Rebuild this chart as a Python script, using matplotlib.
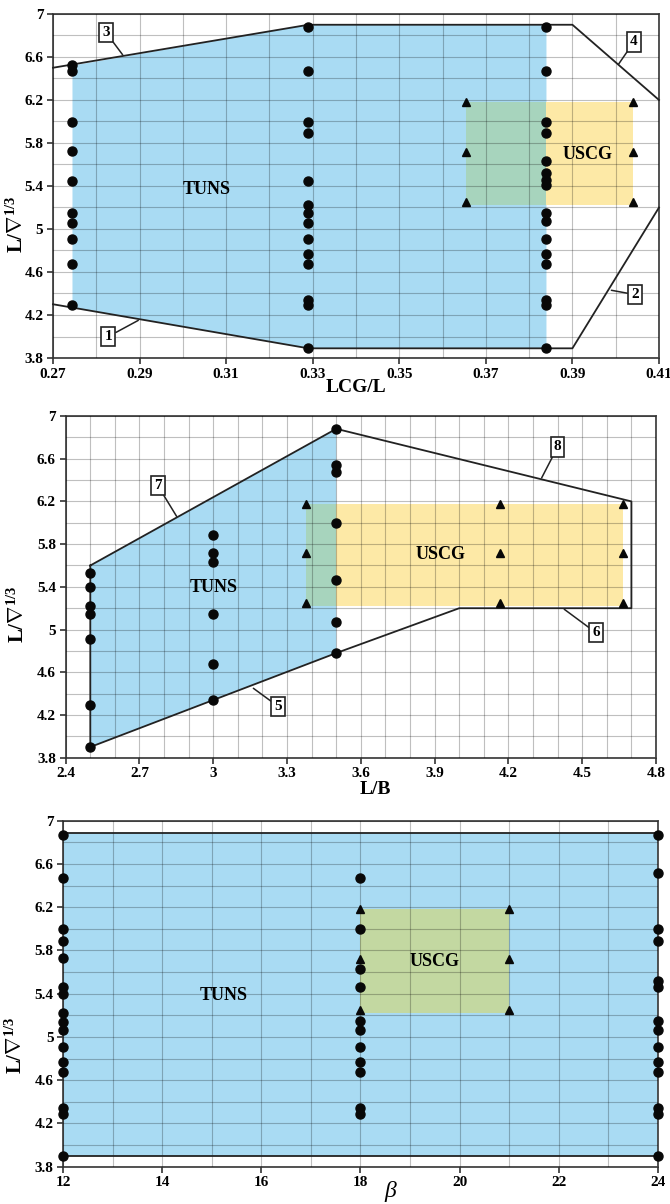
import numpy as np
import matplotlib
matplotlib.use('Agg')
import matplotlib.pyplot as plt
from matplotlib.patches import Polygon, Rectangle
from matplotlib.ticker import FixedLocator, FuncFormatter

plt.rcParams['font.family'] = ['Liberation Serif', 'DejaVu Serif']
plt.rcParams['font.weight'] = 'bold'
plt.rcParams['mathtext.fontset'] = 'custom'
plt.rcParams['mathtext.rm'] = 'Liberation Serif'
plt.rcParams['mathtext.bf'] = 'Liberation Serif:bold'
plt.rcParams['mathtext.it'] = 'Liberation Serif:italic'

# ---- panel 1 : LCG/L ----
lcg_cols = [0.2745, 0.329, 0.384]
lcg_tuns = [
    [6.53, 6.47, 6.0, 5.73, 5.45, 5.15, 5.06, 4.91, 4.67, 4.29],
    [6.88, 6.47, 6.0, 5.89, 5.45, 5.22, 5.15, 5.06, 4.91, 4.77, 4.67, 4.34, 4.29, 3.89],
    [6.88, 6.47, 6.0, 5.89, 5.63, 5.52, 5.46, 5.41, 5.15, 5.07, 4.91, 4.77, 4.67, 4.34, 4.29, 3.89],
]
lcg_uscg_x = [0.3655, 0.404]
lcg_tuns_poly = [(0.2745, 6.52), (0.329, 6.9), (0.384, 6.9), (0.384, 3.89), (0.329, 3.89), (0.2745, 4.27)]
lcg_upper = [(0.27, 6.5), (0.329, 6.9), (0.39, 6.9), (0.41, 6.2)]
lcg_lower = [(0.27, 4.3), (0.329, 3.89), (0.39, 3.89), (0.41, 5.2)]
lcg_xticks = [0.27, 0.29, 0.31, 0.33, 0.35, 0.37, 0.39, 0.41]
# number tags: (label, point on line, box position)
lcg_tags = [('3', (0.2861, 6.62), (0.2822, 6.83)),
            ('1', (0.2897, 4.15), (0.2828, 4.0)),
            ('4', (0.4006, 6.53), (0.4042, 6.74)),
            ('2', (0.399, 4.43), (0.4044, 4.39))]

# ---- panel 2 : L/B ----
lb_cols = [2.5, 3.0, 3.5]
lb_tuns = [
    [5.53, 5.40, 5.22, 5.15, 4.91, 4.29, 3.90],
    [5.89, 5.72, 5.63, 5.15, 4.68, 4.34],
    [6.88, 6.54, 6.48, 6.0, 5.46, 5.07, 4.78],
]
lb_uscg_x = [3.375, 4.167, 4.667]
lb_tuns_poly = [(2.5, 3.9), (3.5, 4.78), (3.5, 6.88), (2.5, 5.6)]
lb_outline = [(2.5, 5.6), (3.5, 6.88), (4.7, 6.2), (4.7, 5.2), (4.0, 5.2), (3.5, 4.78), (2.5, 3.9), (2.5, 5.6)]
lb_xticks = [2.4, 2.7, 3.0, 3.3, 3.6, 3.9, 4.2, 4.5, 4.8]
lb_tags = [('7', (2.851, 6.06), (2.774, 6.35)),
           ('5', (3.163, 4.45), (3.264, 4.28)),
           ('8', (4.335, 6.42), (4.40, 6.71)),
           ('6', (4.427, 5.19), (4.556, 4.97))]

# ---- panel 3 : beta ----
beta_cols = [12, 18, 24]
beta_tuns = [
    [6.87, 6.47, 6.0, 5.89, 5.73, 5.46, 5.40, 5.22, 5.14, 5.06, 4.91, 4.77, 4.68, 4.34, 4.29, 3.90],
    [6.47, 6.0, 5.63, 5.46, 5.15, 5.06, 4.91, 4.77, 4.68, 4.34, 4.29],
    [6.87, 6.52, 6.0, 5.89, 5.52, 5.46, 5.15, 5.06, 4.91, 4.77, 4.68, 4.34, 4.29, 3.90],
]
beta_uscg_x = [18, 21]
beta_tuns_rect = (12, 24, 3.9, 6.89)
beta_xticks = [12, 14, 16, 18, 20, 22, 24]

# USCG range is the same on every panel
uscg_y = [6.18, 5.72, 5.25]
uscg_ylim = (5.22, 6.18)
yticks = [3.8, 4.2, 4.6, 5.0, 5.4, 5.8, 6.2, 6.6, 7.0]

blue = '#a9dbf3'
yellow = '#fde9a6'
green12 = '#a7d4bd'
green3 = '#c3d8a1'
ylab = r'$\mathbf{L/\nabla^{1/3}}$'

fmt = FuncFormatter(lambda v, p: '%g' % round(v, 3))


def setup(ax, xlim, xticks, xminor, xlabel, xl_pos, yl_pos, **lab_kw):
    ax.set_xlim(xlim)
    ax.set_ylim(3.8, 7.0)
    ax.xaxis.set_major_locator(FixedLocator(xticks))
    ax.xaxis.set_minor_locator(FixedLocator(xminor))
    ax.yaxis.set_major_locator(FixedLocator(yticks))
    ax.yaxis.set_minor_locator(FixedLocator(np.arange(3.8, 7.01, 0.2)))
    ax.xaxis.set_major_formatter(fmt)
    ax.yaxis.set_major_formatter(fmt)
    ax.set_axisbelow(False)
    ax.grid(which='both', color='black', alpha=0.25, lw=0.8)
    ax.tick_params(which='major', direction='out', length=4, width=1.2, labelsize=11, color='#333333', pad=3)
    ax.tick_params(which='minor', length=0)
    for s in ax.spines.values():
        s.set_color('#444444')
        s.set_linewidth(1.3)
    kw = dict(fontsize=14, fontweight='bold')
    kw.update(lab_kw)
    ax.set_xlabel(xlabel, va='top', **kw)
    ax.xaxis.set_label_coords(*xl_pos)
    ax.set_ylabel(ylab, fontsize=15)
    ax.yaxis.set_label_coords(*yl_pos)


def dots(ax, cols, vals, tri_x):
    for x, ys in zip(cols, vals):
        ax.plot([x] * len(ys), ys, 'o', color='#080808', ms=6.5, zorder=5, clip_on=False)
    for x in tri_x:
        ax.plot([x] * len(uscg_y), uscg_y, '^', color='#080808', ms=5.5, zorder=5)


def tags(ax, tag_list):
    for t, xy, xyt in tag_list:
        ax.annotate(t, xy=xy, xytext=xyt, fontsize=11, fontweight='bold', ha='center', va='center',
                    bbox=dict(boxstyle='square,pad=0.2', fc='white', ec='#222222', lw=1.2),
                    arrowprops=dict(arrowstyle='-', color='#222222', lw=1.1, shrinkA=0, shrinkB=0),
                    zorder=6)


fig = plt.figure(figsize=(6.7, 12.04), dpi=100)

# panel 1
ax1 = fig.add_axes([53 / 670, 1 - 358 / 1204, 606 / 670, 344 / 1204])
setup(ax1, (0.27, 0.41), lcg_xticks, np.arange(0.27, 0.4101, 0.01), 'LCG/L',
      (0.5, -0.062), (-0.042, 0.39))
ax1.add_patch(Polygon(lcg_tuns_poly, closed=True, fc=blue, ec='none', zorder=1))
ax1.add_patch(Rectangle((lcg_uscg_x[0], uscg_ylim[0]), lcg_uscg_x[1] - lcg_uscg_x[0],
                        uscg_ylim[1] - uscg_ylim[0], fc=yellow, ec='none', zorder=1.1))
ax1.add_patch(Rectangle((lcg_uscg_x[0], uscg_ylim[0]), lcg_cols[2] - lcg_uscg_x[0],
                        uscg_ylim[1] - uscg_ylim[0], fc=green12, ec='none', zorder=1.2))
ax1.plot(*zip(*lcg_upper), color='#222222', lw=1.3, zorder=3, clip_on=False)
ax1.plot(*zip(*lcg_lower), color='#222222', lw=1.3, zorder=3, clip_on=False)
dots(ax1, lcg_cols, lcg_tuns, lcg_uscg_x)
ax1.text(0.3055, 5.37, 'TUNS', fontsize=13, fontweight='bold', ha='center', va='center', zorder=6)
ax1.text(0.3936, 5.69, 'USCG', fontsize=13, fontweight='bold', ha='center', va='center', zorder=6)
tags(ax1, lcg_tags)

# panel 2
ax2 = fig.add_axes([65.7 / 670, 1 - 757.7 / 1204, 590.3 / 670, 341.7 / 1204])
setup(ax2, (2.4, 4.8), lb_xticks, np.arange(2.4, 4.801, 0.1), 'L/B',
      (0.524, -0.068), (-0.063, 0.42))
ax2.add_patch(Polygon(lb_tuns_poly, closed=True, fc=blue, ec='none', zorder=1))
ax2.add_patch(Rectangle((lb_uscg_x[0], uscg_ylim[0]), lb_uscg_x[2] - lb_uscg_x[0],
                        uscg_ylim[1] - uscg_ylim[0], fc=yellow, ec='none', zorder=1.1))
ax2.add_patch(Rectangle((lb_uscg_x[0], uscg_ylim[0]), lb_cols[2] - lb_uscg_x[0],
                        uscg_ylim[1] - uscg_ylim[0], fc=green12, ec='none', zorder=1.2))
ax2.plot(*zip(*lb_outline), color='#222222', lw=1.3, zorder=3)
dots(ax2, lb_cols, lb_tuns, lb_uscg_x)
ax2.text(3.0, 5.39, 'TUNS', fontsize=13, fontweight='bold', ha='center', va='center', zorder=6)
ax2.text(3.926, 5.70, 'USCG', fontsize=13, fontweight='bold', ha='center', va='center', zorder=6)
tags(ax2, lb_tags)

# panel 3
ax3 = fig.add_axes([63.3 / 670, 1 - 1166.7 / 1204, 594.4 / 670, 346 / 1204])
setup(ax3, (12, 24), beta_xticks, np.arange(12, 24.01, 1), 'β',
      (0.55, -0.04), (-0.061, 0.352), fontsize=17, fontweight='normal', fontstyle='italic')
x0, x1, y0, y1 = beta_tuns_rect
ax3.add_patch(Rectangle((x0, y0), x1 - x0, y1 - y0, fc=blue, ec='none', zorder=1))
ax3.add_patch(Rectangle((beta_uscg_x[0], uscg_ylim[0]), beta_uscg_x[1] - beta_uscg_x[0],
                        uscg_ylim[1] - uscg_ylim[0], fc=green3, ec='none', zorder=1.2))
ax3.plot([x0, x1], [y1, y1], color='#222222', lw=1.3, zorder=3)
ax3.plot([x0, x1], [y0, y0], color='#222222', lw=1.3, zorder=3)
dots(ax3, beta_cols, beta_tuns, beta_uscg_x)
ax3.text(15.24, 5.38, 'TUNS', fontsize=13, fontweight='bold', ha='center', va='center', zorder=6)
ax3.text(19.5, 5.70, 'USCG', fontsize=13, fontweight='bold', ha='center', va='center', zorder=6)

fig.savefig('out.png', dpi=100)
